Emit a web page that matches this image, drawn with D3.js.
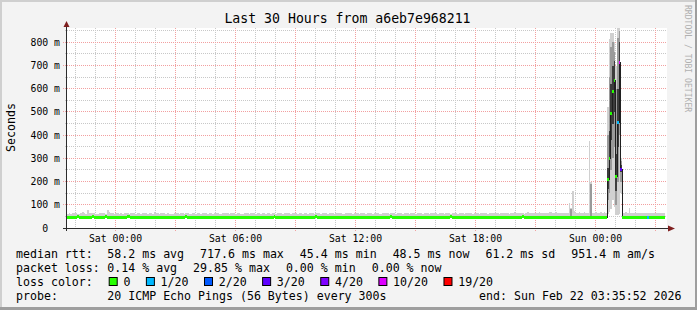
<!DOCTYPE html>
<html>
<head>
<meta charset="utf-8">
<script src="https://cdn.jsdelivr.net/npm/d3@7"></script>
<style>
body{margin:0;background:#f3f3f3}
svg{display:block}
text{font-family:"DejaVu Sans Mono",monospace;white-space:pre}
</style>
</head>
<body>
<svg></svg>
<script>
// median rtt per 5 minute step (ms), 30 hours = 360 steps
var median = [
48,49,48,47,48,49,50,49,48,48,47,48,49,49,48,50,49,48,48,49,
48,48,49,50,49,48,47,48,48,49,49,48,48,47,48,49,50,50,49,48,
48,48,47,48,49,48,48,49,48,47,47,48,49,49,48,48,49,48,48,47,
47,47,46,45.4,46,48,49,48,47,48,49,50,49,48,48,48,47,48,49,48,
48,49,49,48,47,47,48,48,49,48,48,49,49,48,47,48,48,49,48,48,
47,48,48,47,48,48,49,48,48,47,48,48,49,49,48,47,47,48,48,49,
49,48,48,49,50,49,48,48,47,48,49,49,48,48,49,48,47,48,48,49,
48,48,49,49,48,47,48,48,49,50,49,48,48,48,47,48,49,49,48,48,
49,48,48,47,48,49,49,48,48,49,48,48,47,48,48,49,49,48,48,47,
48,49,48,48,49,49,48,47,48,48,49,48,48,49,50,49,48,48,47,48,
48,49,49,48,48,47,48,49,49,48,48,49,48,48,47,48,49,48,48,49,
49,48,48,47,48,49,49,48,48,49,50,49,48,48,47,48,48,49,48,48,
49,49,48,48,47,48,48,49,49,48,48,49,48,47,48,49,49,48,48,48,
49,48,48,49,48,47,48,48,49,49,48,48,49,50,49,48,48,47,48,49,
48,48,49,49,48,48,47,48,49,48,48,49,49,48,48,47,48,49,48,48,
49,48,49,48,49,48,48,49,48,48,49,49,48,48,49,48,48,49,48,48,
49,48,48,49,211,300,495,590,640,222,459,716,255,49,48,48,49,48,48,49,
48,49,48,48,49,48,48,49,48,48,49,48,48,49,48,48,49,48,48.5,null
];
// lowest ping per step (ms)
var smokeLo = [
42,41,43,42,41,42,43,42,40,42,41,42,43,42,41,42,43,41,42,42,
41,42,43,42,41,40,41,42,42,43,42,41,42,41,42,43,42,42,41,42,
42,41,40,42,43,42,41,42,42,41,40,41,42,43,42,41,42,42,41,40,
40,41,39,39,40,41,42,42,41,42,43,42,42,41,42,42,41,42,42,41,
42,42,43,42,41,40,42,42,43,42,41,42,43,42,40,42,41,42,42,41,
41,41,42,40,41,42,43,42,41,40,42,41,42,43,42,41,40,41,42,43,
42,41,42,43,42,42,41,42,40,41,42,43,42,41,42,42,40,41,42,43,
42,41,42,43,42,40,41,42,43,42,42,41,42,41,40,41,42,43,42,41,
42,42,41,40,41,42,43,42,41,42,42,41,40,41,42,43,42,41,42,40,
41,42,42,41,42,43,42,40,41,42,43,42,41,42,43,42,42,41,40,41,
42,42,43,42,41,40,41,42,43,42,41,42,42,41,40,41,42,42,41,42,
43,42,41,40,41,42,43,42,41,42,43,42,42,41,40,41,42,43,42,41,
42,43,42,41,40,41,42,43,42,41,42,42,41,40,41,42,43,42,41,42,
42,41,42,43,42,40,41,42,43,42,41,42,42,43,42,41,42,40,41,42,
42,41,42,43,42,41,40,41,42,42,41,42,43,42,41,40,41,42,42,41,
42,41,42,41,42,41,42,42,41,42,43,42,41,42,43,41,42,42,41,41,
42,41,42,42,60,70,80,120,90,55,57,60,150,42,41,42,43,42,41,42,
41,42,42,41,42,43,42,42,41,42,42,41,42,43,42,41,42,41,42,null
];
// highest ping per step (ms)
var smokeHi = [
62,64,60,66,63,65,61,60,64,67,63,62,76,66,64,63,65,61,60,64,
63,66,64,61,76,67,64,63,61,65,64,60,63,61,66,64,63,61,66,65,
64,61,63,65,60,64,66,63,61,64,65,60,70,66,63,61,64,65,63,61,
64,61,60,61,63,65,64,61,66,63,61,64,65,61,60,64,63,61,65,64,
61,64,65,63,61,66,64,61,63,65,64,61,60,64,63,65,66,61,63,64,
63,61,64,65,61,60,66,64,63,61,64,65,63,61,64,63,60,64,65,61,
64,63,61,65,64,60,63,66,64,61,63,64,65,63,61,64,66,63,61,64,
65,61,63,64,60,63,65,64,61,66,64,63,61,65,64,63,60,64,65,63,
61,64,63,65,64,61,60,63,66,64,63,61,64,65,63,61,64,66,63,61,
64,65,63,61,64,66,63,61,60,64,65,63,64,61,63,65,64,61,63,66,
63,61,64,65,63,60,64,66,63,61,64,65,63,61,66,64,63,61,65,64,
65,63,61,64,66,63,61,65,64,63,61,64,66,63,61,65,64,63,60,64,
64,66,63,61,65,64,63,61,64,66,65,63,61,64,63,65,66,64,63,61,
63,64,66,65,63,61,64,65,67,64,63,66,65,64,61,65,67,64,63,66,
65,64,66,67,64,63,65,66,64,71,67,65,64,68,66,65,64,63,66,65,
66,108,88,158,72,65,64,67,66,65,68,66,64,376,200,66,65,67,64,66,
68,66,67,65,520,815,842,842,800,700,862,862,300,66,65,67,64,87,66,65,
64,66,65,63,64,66,65,64,65,64,63,65,64,66,63,64,65,64,63,null
];
// denser part of the smoke, only where it shows
var midIdx = [63,302,314,324,325,326,327,328,329,330,331,332];
var midLo  = [43,46,46,120,150,250,300,350,100,200,400,200];
var midHi  = [47,80,190,400,650,780,800,760,600,820,850,290];
var coreIdx = [324,325,326,327,328,329,330,331,332];
var coreLo  = [170,220,380,450,500,160,350,600,240];
var coreHi  = [260,420,620,700,720,320,600,800,270];
// lost pings (of 20) where not zero
var lossIdx = [330,331,332,348];
var lossCnt = [1,10,3,1];

var lossBins   = [0,1,2,3,4,10,19];
var lossLabels = ["0","1/20","2/20","3/20","4/20","10/20","19/20"];
var lossColors = ["#26ff00","#00b8ff","#0059ff","#5e00ff","#7e00ff","#dd00ff","#ff0000"];
var yTicks = [0,100,200,300,400,500,600,700,800];
var yMinor = [50,150,250,350,450,550,650,750,850];

var title = "Last 30 Hours from a6eb7e968211";
var rttHead = "median rtt:";
var rttItems = ["58.2 ms avg","717.6 ms max","45.4 ms min","48.5 ms now","61.2 ms sd","951.4 m am/s"];
var plHead = "packet loss:";
var plItems = ["0.14 % avg","29.85 % max","0.00 % min","0.00 % now"];
var lcHead = "loss color:";
var probeHead = "probe:";
var probeText = "20 ICMP Echo Pings (56 Bytes) every 300s";
var endText = "end: Sun Feb 22 03:35:52 2026";
var endTime = new Date(Date.UTC(2026,1,22,3,35,52));
var hours = 30, stepSec = 300;

var W = 697, H = 310;
var pL = 67, pR = 667, pT = 28, pB = 228;
var svg = d3.select("svg").attr("width", W).attr("height", H);

svg.append("rect").attr("width", W).attr("height", H).attr("fill", "#f3f3f3");
svg.append("rect").attr("width", W).attr("height", 2).attr("fill", "#cfcfcf");
svg.append("rect").attr("width", 2).attr("height", H).attr("fill", "#cfcfcf");
svg.append("rect").attr("y", H-3).attr("width", W).attr("height", 3).attr("fill", "#9e9e9e");
svg.append("rect").attr("x", W-2).attr("width", 2).attr("height", H).attr("fill", "#9e9e9e");
svg.append("rect").attr("x", pL).attr("y", pT).attr("width", pR-pL).attr("height", pB-pT).attr("fill", "#fff");

var start = new Date(+endTime - hours*3600e3);
var x = d3.scaleUtc().domain([start, endTime]).range([pL, pR]);
var y = d3.scaleLinear().domain([0, 862]).range([pB, pT]);
function px(v){ return Math.floor(v) + 0.5; }

// grid
var g = svg.append("g").attr("shape-rendering", "crispEdges");
var major = x.ticks(d3.utcHour.every(3)).map(Number);
var minor = x.ticks(d3.utcHour.every(1)).filter(function(t){ return major.indexOf(+t) < 0; });
g.selectAll(".vmin").data(minor).enter().append("line")
	.attr("x1", function(t){ return px(x(t)); }).attr("x2", function(t){ return px(x(t)); })
	.attr("y1", pT).attr("y2", pB + 2)
	.attr("stroke", "#c8c8c8").attr("stroke-dasharray", "1,1");
g.selectAll(".hmin").data(yMinor).enter().append("line")
	.attr("x1", pL - 2).attr("x2", pR)
	.attr("y1", function(v){ return px(y(v)); }).attr("y2", function(v){ return px(y(v)); })
	.attr("stroke", "#c8c8c8").attr("stroke-dasharray", "1,1");
g.selectAll(".vmaj").data(major).enter().append("line")
	.attr("x1", function(t){ return px(x(t)); }).attr("x2", function(t){ return px(x(t)); })
	.attr("y1", pT).attr("y2", pB + 3)
	.attr("stroke", "#f2a0a0").attr("stroke-dasharray", "1,1");
g.selectAll(".hmaj").data(yTicks.slice(1)).enter().append("line")
	.attr("x1", pL - 4).attr("x2", pR)
	.attr("y1", function(v){ return px(y(v)); }).attr("y2", function(v){ return px(y(v)); })
	.attr("stroke", "#f2a0a0").attr("stroke-dasharray", "1,1");

// steps
var loss = median.map(function(){ return 0; });
lossIdx.forEach(function(k, j){ loss[k] = lossCnt[j]; });
var steps = median.map(function(m, i){
	return {
		x0: Math.round(x(new Date(+start + i*stepSec*1000))),
		x1: Math.round(x(new Date(+start + (i+1)*stepSec*1000))),
		med: m, lo: smokeLo[i], hi: smokeHi[i], loss: loss[i]
	};
});
function band(idx, lo, hi){
	return idx.map(function(k, j){ return {x0: steps[k].x0, x1: steps[k].x1, lo: lo[j], hi: hi[j]}; });
}
function drawBand(data, color){
	g.append("g").selectAll("rect").data(data.filter(function(d){ return d.hi != null; })).enter().append("rect")
		.attr("x", function(d){ return d.x0; })
		.attr("width", function(d){ return d.x1 - d.x0; })
		.attr("y", function(d){ return Math.round(y(d.hi)); })
		.attr("height", function(d){ return Math.max(1, Math.round(y(d.lo)) - Math.round(y(d.hi))); })
		.attr("fill", color);
}
drawBand(steps, "#d0d0d0");
drawBand(band(midIdx, midLo, midHi), "#9a9a9a");
drawBand(band(coreIdx, coreLo, coreHi), "#3c3c3c");

// thin black median, then the loss coloured median on top
var defined = steps.filter(function(d){ return d.med != null; });
var last = defined[defined.length-1];
svg.append("path").datum(defined.concat([{x0: last.x1, med: last.med}]))
	.attr("d", d3.line().x(function(d){ return d.x0; }).y(function(d){ return Math.round(y(d.med)) + 0.5; }).curve(d3.curveStepAfter))
	.attr("fill", "none").attr("stroke", "#202020").attr("stroke-width", 1)
	.attr("shape-rendering", "crispEdges");

function binColor(l){
	var b = 0;
	lossBins.forEach(function(v, k){ if (l >= v) b = k; });
	return lossColors[b];
}
svg.append("g").attr("shape-rendering", "crispEdges")
	.selectAll("rect").data(defined).enter().append("rect")
	.attr("x", function(d){ return d.x0; })
	.attr("width", function(d){ return d.x1 - d.x0; })
	.attr("y", function(d){ return Math.round(y(d.med)) - 1; })
	.attr("height", 3)
	.attr("fill", function(d){ return binColor(d.loss); });

// axes
svg.append("line").attr("x1", pL - 4).attr("x2", pR + 3).attr("y1", px(y(0))).attr("y2", px(y(0)))
	.attr("stroke", "#2c2c2c").attr("shape-rendering", "crispEdges");
svg.append("line").attr("x1", pL - 0.5).attr("x2", pL - 0.5).attr("y1", pB + 3).attr("y2", pT - 4)
	.attr("stroke", "#2c2c2c").attr("shape-rendering", "crispEdges");
svg.append("path").attr("d", "M668,225.5L675,228.5L668,231.5Z").attr("fill", "#7f1f1f");
svg.append("path").attr("d", "M63.5,27L66.5,21L69.5,27Z").attr("fill", "#7f1f1f");

svg.selectAll(".ylab").data(yTicks).enter().append("text")
	.attr("x", 60).attr("y", function(v){ return px(y(v)) + 3.5; })
	.attr("text-anchor", "end").attr("font-size", "9.8px")
	.text(function(v){ return v === 0 ? "0  " : v + " m"; });
svg.selectAll(".xlab").data(x.ticks(d3.utcHour.every(6))).enter().append("text")
	.attr("x", function(t){ return px(x(t)); }).attr("y", 242)
	.attr("text-anchor", "middle").attr("font-size", "9.8px")
	.text(d3.utcFormat("%a %H:%M"));

svg.append("text").attr("x", 347.5).attr("y", 23).attr("text-anchor", "middle")
	.attr("font-size", "13.2px").text(title);
svg.append("text").attr("transform", "translate(15,127.5) rotate(-90)")
	.attr("text-anchor", "middle").attr("font-size", "11.6px").text("Seconds");
svg.append("text").attr("transform", "translate(684.5,5) rotate(90)")
	.attr("font-size", "8.1px").attr("fill", "#b0b0b0").text("RRDTOOL / TOBI OETIKER");

// legend
var col = 107.3, gap = 16;
function row(head, items, yy){
	svg.append("text").attr("x", 16).attr("y", yy).attr("font-size", "11.6px").text(head);
	var xx = col;
	items.forEach(function(s){
		var t = svg.append("text").attr("x", xx).attr("y", yy).attr("font-size", "11.6px").text(s);
		xx += t.node().getComputedTextLength() + gap;
	});
}
row(rttHead, rttItems, 258);
row(plHead, plItems, 272);
svg.append("text").attr("x", 16).attr("y", 286).attr("font-size", "11.6px").text(lcHead);
var bx = 108.7;
lossLabels.forEach(function(s, k){
	svg.append("rect").attr("x", bx + 0.5).attr("y", 277.5).attr("width", 8).attr("height", 8)
		.attr("fill", lossColors[k]).attr("stroke", "#000");
	var t = svg.append("text").attr("x", bx + 14.7).attr("y", 286).attr("font-size", "11.6px").text(s);
	bx += 14.7 + t.node().getComputedTextLength() + 15.5;
});
row(probeHead, [probeText], 300);
svg.append("text").attr("x", 681.5).attr("y", 300).attr("text-anchor", "end")
	.attr("font-size", "11.6px").text(endText);
</script>
</body>
</html>
